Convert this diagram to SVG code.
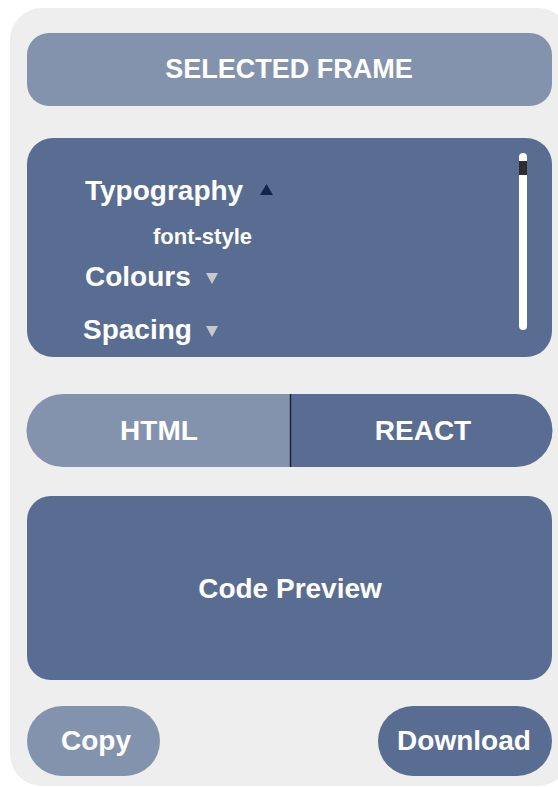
<svg xmlns="http://www.w3.org/2000/svg" width="558" height="787" viewBox="0 0 558 787">
  <style>
    .light { fill: #8493ad; }
    .dark { fill: #586d91; }
    .lbl { font-family: "Liberation Sans", Arial, sans-serif; font-weight: 700; fill: #ffffff; font-size: 28px; }
    .c { text-anchor: middle; }
    .caret { fill: #c8c8cc; }
  </style>
  <rect width="558" height="787" fill="#ffffff"/>
  <!-- outer panel -->
  <rect x="10" y="8" width="560" height="778" rx="32" fill="#eeeeee"/>

  <g id="selected-frame">
    <rect class="light" x="27" y="33" width="525" height="73" rx="22"/>
    <text class="lbl c" x="289" y="78" style="font-size:27px">SELECTED FRAME</text>
  </g>

  <g id="properties">
    <rect class="dark" x="27" y="138" width="525" height="219" rx="26"/>
    <text class="lbl" x="85" y="200">Typography</text>
    <polygon points="260,195 273,195 266.5,184" fill="#14244a"/>
    <text class="lbl" x="153" y="244" style="font-size:22px">font-style</text>
    <text class="lbl" x="85" y="286">Colours</text>
    <polygon class="caret" points="206,273 218,273 212,284"/>
    <text class="lbl" x="83" y="339">Spacing</text>
    <polygon class="caret" points="206,326 218,326 212,337"/>
    <!-- scrollbar track and thumb -->
    <line x1="523" y1="157" x2="523" y2="326" stroke="#ffffff" stroke-width="8" stroke-linecap="round"/>
    <rect x="519" y="161" width="8" height="14" fill="#2e2e33"/>
  </g>

  <g id="format-toggle">
    <path class="light" d="M290,394 H63 A36.5,36.5 0 0 0 63,467 H290 Z"/>
    <path class="dark" d="M290,394 H516 A36.5,36.5 0 0 1 516,467 H290 Z"/>
    <line x1="290.5" y1="394" x2="290.5" y2="467" stroke="#1b2436" stroke-width="1.5"/>
    <text class="lbl c" x="159" y="440">HTML</text>
    <text class="lbl c" x="423" y="440">REACT</text>
  </g>

  <g id="code-preview">
    <rect class="dark" x="27" y="496" width="525" height="184" rx="24"/>
    <text class="lbl c" x="290" y="598">Code Preview</text>
  </g>

  <g id="copy">
    <rect class="light" x="27" y="706" width="133" height="70" rx="35"/>
    <text class="lbl c" x="96" y="750">Copy</text>
  </g>

  <g id="download">
    <rect class="dark" x="378" y="706" width="174" height="70" rx="35"/>
    <text class="lbl c" x="464" y="750">Download</text>
  </g>
</svg>
